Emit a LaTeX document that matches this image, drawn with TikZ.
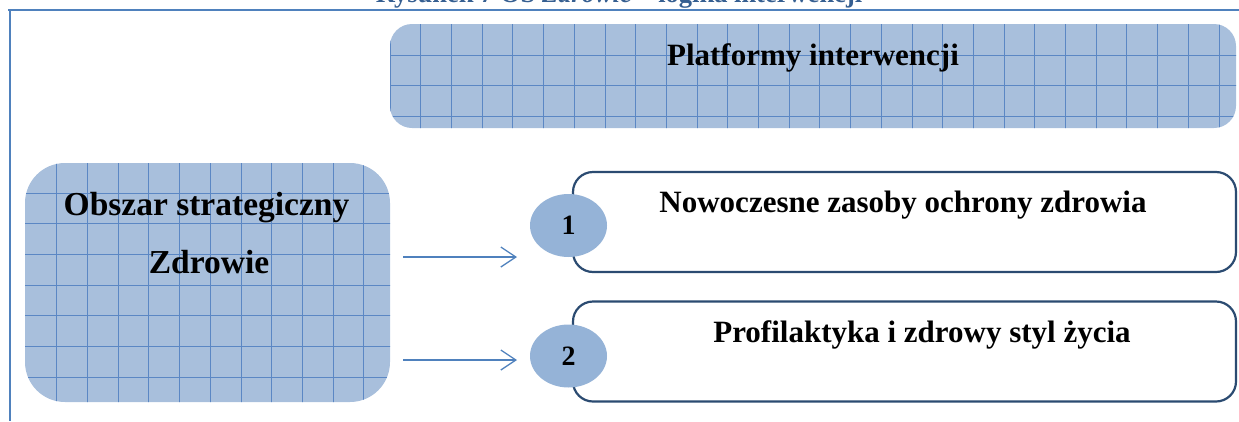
\documentclass[tikz,border=0pt]{standalone}
\usepackage{fontspec}
\setmainfont{Liberation Serif}
\usetikzlibrary{arrows.meta,shapes.geometric}
\definecolor{frameblue}{HTML}{4F81BD}
\definecolor{gridfill}{HTML}{A8BFDC}
\definecolor{gridline}{HTML}{5B87C4}
\definecolor{circfill}{HTML}{95B3D7}
\definecolor{boxline}{HTML}{2B4B71}
\definecolor{titleblue}{HTML}{365F91}
\begin{document}
\begin{tikzpicture}[x=1pt,y=-1pt,
  gridbox/.style={fill=gridfill,draw=none,inner sep=0pt,outer sep=0pt},
  gline/.style={draw=gridline,line width=0.8pt},
  wbox/.style={draw=boxline,line width=2.2pt,fill=white,rounded corners=20pt,inner sep=0pt,outer sep=0pt,minimum width=663pt,minimum height=100pt},
  num/.style={ellipse,fill=circfill,draw=none,minimum width=77pt,minimum height=63pt,inner sep=0pt,font=\fontsize{28}{32}\selectfont\bfseries},
  big/.style={font=\fontsize{31}{36}\selectfont\bfseries,inner sep=0pt},
  arr/.style={draw=frameblue,line width=1.3pt,-{Straight Barb[length=15pt,width=20pt,line width=1.3pt]}}
]
\useasboundingbox (0,0) rectangle (1239,421);
\clip (0,0) rectangle (1239,421);
% caption (cut at top) and frame lines
\node[anchor=base,inner sep=0pt,text=titleblue,font=\fontsize{26.5}{30}\selectfont\bfseries] (title) at (619,2.5) {Rysunek 7 OS \textit{Zdrowie} – logika interwencji};
\coordinate (fa) at (8,10);
\coordinate (fb) at (1239,10);
\coordinate (fc) at (10,9);
\coordinate (fd) at (10,421);
\draw[frameblue,line width=2pt] (fa) -- (fb);
\draw[frameblue,line width=2pt] (fc) -- (fd);
% top box
\node[gridbox,rounded corners=22pt,minimum width=846pt,minimum height=104pt] (plat) at (813,76) {};
\begin{scope}
  \clip[rounded corners=22pt] (plat.north west) rectangle (plat.south east);
  \foreach \k in {-7,...,20} \draw[gline] ({1004-30.7*\k},20) -- ({1004-30.7*\k},135);
  \foreach \k in {0,1,2} \draw[gline] (385,{55+30.7*\k}) -- (1240,{55+30.7*\k});
\end{scope}
\node[big] (platT) at (813,58) {Platformy interwencji};
% left box
\node[gridbox,rounded corners=40pt,minimum width=365pt,minimum height=239pt] (area) at (207.5,282.5) {};
\begin{scope}
  \clip[rounded corners=40pt] (area.north west) rectangle (area.south east);
  \foreach \k in {0,...,11} \draw[gline] ({56.7+30.7*\k},160) -- ({56.7+30.7*\k},405);
  \foreach \k in {0,...,6} \draw[gline] (20,{193+30.7*\k}) -- (395,{193+30.7*\k});
\end{scope}
\node[big,font=\fontsize{33.5}{38}\selectfont\bfseries] (areaA) at (206.5,208) {Obszar strategiczny};
\node[big,font=\fontsize{33.5}{38}\selectfont\bfseries] (areaB) at (209,262) {Zdrowie};
% right boxes
\node[wbox] (p1) at (904.5,222) {};
\node[wbox] (p2) at (904.5,351.5) {};
\node[big] (p1T) at (903,205) {Nowoczesne zasoby ochrony zdrowia};
\node[big] (p2T) at (922,335) {Profilaktyka i zdrowy styl życia};
% circles
\node[num] (c1) at (568.5,225.5) {1};
\node[num] (c2) at (568.5,356) {2};
% arrows
\coordinate (a1) at (403,257);
\coordinate (b1) at (517,257);
\coordinate (a2) at (403,360);
\coordinate (b2) at (517,360);
\draw[arr] (a1) -- (b1);
\draw[arr] (a2) -- (b2);
\end{tikzpicture}
\end{document}
